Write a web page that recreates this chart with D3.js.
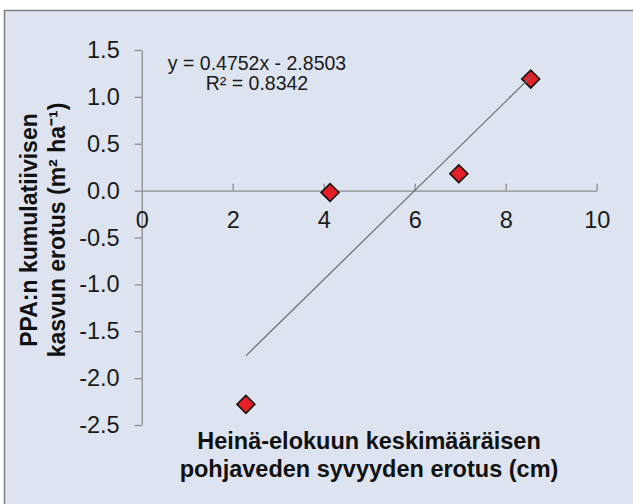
<!DOCTYPE html>
<html>
<head>
<meta charset="utf-8">
<script src="https://cdn.jsdelivr.net/npm/d3@7"></script>
<style>
  html, body { margin: 0; padding: 0; background: #ffffff; }
  svg { display: block; font-family: Arial, "Liberation Sans", sans-serif; }
</style>
</head>
<body>
<svg id="chart" width="633" height="504"></svg>
<script>
// ---- data ----
const xValues = [4.14, 6.97, 8.55, 2.29];
const yValues = [-0.02, 0.18, 1.19, -2.28];
const xTicks = [0, 2, 4, 6, 8, 10];
const yTicks = [1.5, 1.0, 0.5, 0.0, -0.5, -1.0, -1.5, -2.0, -2.5];
const trendSlope = 0.4752;
const trendIntercept = -2.8503;
const equationLines = ["y = 0.4752x - 2.8503", "R\u00B2 = 0.8342"];
const xTitleLines = ["Hein\u00E4-elokuun keskim\u00E4\u00E4r\u00E4isen", "pohjaveden syvyyden erotus (cm)"];
const yTitleLines = ["PPA:n kumulatiivisen", "kasvun erotus (m\u00B2 ha\u207B\u00B9)"];

const svg = d3.select("#chart");

// background panel with border
svg.append("rect")
  .attr("x", 4.5).attr("y", 10.5)
  .attr("width", 640).attr("height", 510)
  .attr("fill", "#dde4f0")
  .attr("stroke", "#7f7f7f")
  .attr("stroke-width", 1.5);

const x = d3.scaleLinear().domain([0, 10]).range([141.7, 596.7]);
const y = d3.scaleLinear().domain([-2.5, 1.5]).range([425, 50]);

const axisColor = "#8c8c8c";

// y axis
const yAxis = svg.append("g")
  .attr("transform", `translate(${x(0)},0)`)
  .call(d3.axisLeft(y).tickValues(yTicks).tickFormat(d3.format(".1f")).tickSize(7).tickSizeOuter(0).tickPadding(15));
yAxis.select(".domain").attr("stroke", axisColor).attr("stroke-width", 1.3);
yAxis.selectAll(".tick line").attr("stroke", axisColor).attr("stroke-width", 1.3);
yAxis.selectAll(".tick text")
  .attr("font-size", 23.5).attr("fill", "#1a1a1a")
  .attr("font-family", "Arial, 'Liberation Sans', sans-serif")
  .text(d => d3.format(".1f")(d).replace("\u2212", "-"));

// x axis at y=0, ticks upward, labels below
const xAxis = svg.append("g")
  .attr("transform", `translate(0,${y(0)})`)
  .call(d3.axisTop(x).tickValues(xTicks).tickFormat(d3.format("d")).tickSize(7).tickSizeOuter(0));
xAxis.select(".domain").attr("stroke", axisColor).attr("stroke-width", 1.3);
xAxis.selectAll(".tick line").attr("stroke", axisColor).attr("stroke-width", 1.3);
xAxis.selectAll(".tick text")
  .attr("font-size", 23.5).attr("fill", "#1a1a1a")
  .attr("font-family", "Arial, 'Liberation Sans', sans-serif")
  .attr("y", 29).attr("dy", "0.35em");
xAxis.selectAll(".tick").filter(d => d === 0).select("line").remove();

// points (diamonds)
const pts = xValues.map((v, i) => [v, yValues[i]]);
svg.append("g").selectAll("path")
  .data(pts).join("path")
  .attr("d", d3.symbol().type(d3.symbolSquare).size(160))
  .attr("transform", d => `translate(${x(d[0])},${y(d[1])}) rotate(45)`)
  .attr("fill", "#e61e25")
  .attr("stroke", "#111")
  .attr("stroke-width", 1.6);

// trend line (drawn over markers)
const xMin = d3.min(xValues), xMax = d3.max(xValues);
svg.append("line")
  .attr("x1", x(xMin)).attr("y1", y(trendSlope * xMin + trendIntercept))
  .attr("x2", x(xMax)).attr("y2", y(trendSlope * xMax + trendIntercept))
  .attr("stroke", "#6b6b6b").attr("stroke-width", 1.2);

// equation
svg.append("text")
  .attr("x", 257).attr("y", 70)
  .attr("text-anchor", "middle")
  .attr("font-size", 19.5).attr("fill", "#1a1a1a")
  .selectAll("tspan").data(equationLines).join("tspan")
  .attr("x", 257).attr("dy", (d, i) => i === 0 ? 0 : 20)
  .text(d => d);

// x title
svg.append("text")
  .attr("text-anchor", "middle")
  .attr("font-size", 23.5).attr("font-weight", "bold").attr("fill", "#111")
  .selectAll("tspan").data(xTitleLines).join("tspan")
  .attr("x", 369).attr("y", (d, i) => 449 + i * 28)
  .text(d => d);

// y title
svg.append("text")
  .attr("transform", "translate(0,230) rotate(-90)")
  .attr("text-anchor", "middle")
  .attr("font-size", 23).attr("font-weight", "bold").attr("fill", "#111")
  .selectAll("tspan").data(yTitleLines).join("tspan")
  .attr("x", 0).attr("y", (d, i) => 37 + i * 28)
  .text(d => d);
</script>
</body>
</html>
